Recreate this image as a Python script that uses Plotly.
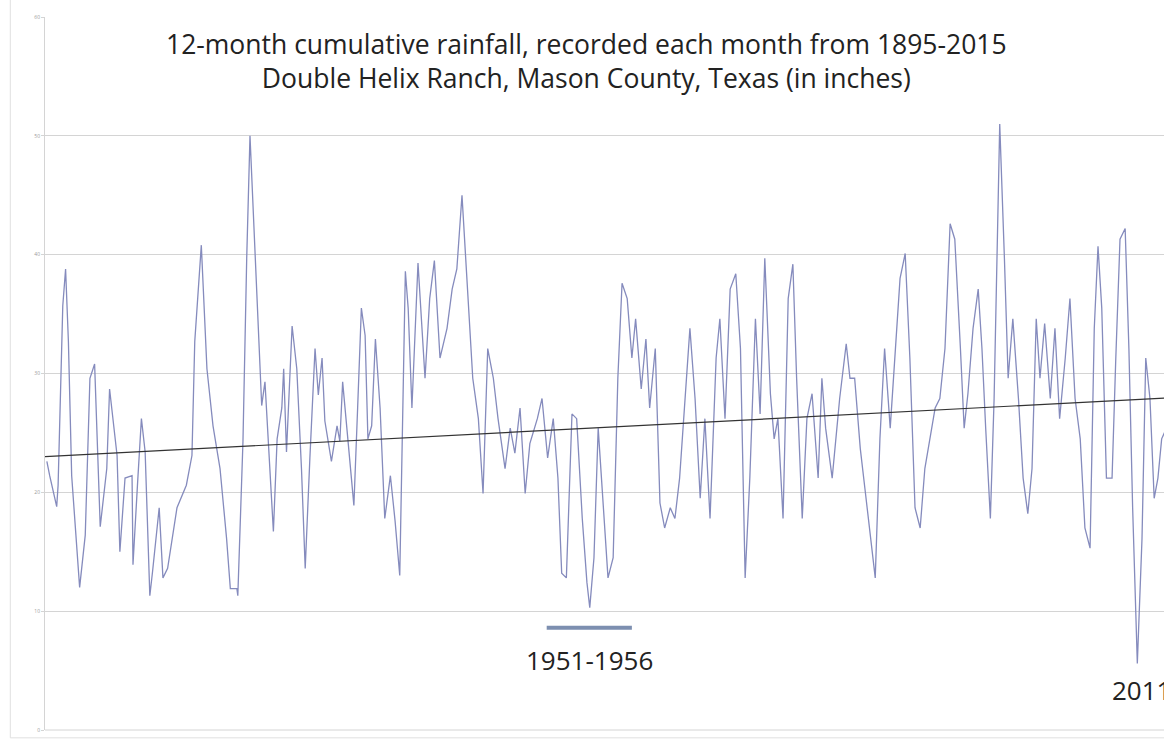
import plotly.graph_objects as go

# Decimal year of each point
years = [
    1895.2, 1895.5, 1896.25, 1896.4, 1896.9, 1897.2, 1897.5, 1897.85, 1898.7, 1899.3,
    1899.8, 1900.3, 1900.9, 1901.6, 1901.9, 1902.7, 1903.0, 1903.55, 1904.3, 1904.4,
    1904.9, 1905.3, 1905.7, 1906.2, 1906.5, 1907.2, 1907.6, 1908.1, 1909.1, 1910.1,
    1910.7, 1911.0, 1911.7, 1912.1, 1912.3, 1912.95, 1913.7, 1914.4, 1914.8,
    1915.5, 1915.6, 1916.15, 1916.55, 1916.9, 1917.4, 1917.8, 1918.15, 1918.5, 1918.8,
    1919.4, 1919.8, 1920.3, 1920.5, 1920.8, 1921.4, 1921.9, 1922.4, 1922.8, 1923.3,
    1923.85, 1924.2, 1924.6, 1924.9, 1925.6, 1926.2, 1926.5, 1926.8, 1927.4, 1928.0,
    1928.4, 1928.8, 1929.2, 1929.5, 1929.9, 1930.3, 1930.8, 1931.3, 1931.9, 1932.4,
    1932.9, 1933.5, 1933.8, 1934.2,
    1934.85, 1935.6, 1936.1, 1936.6, 1937.2, 1937.95, 1938.5, 1939.0, 1939.55, 1940.2,
    1940.7, 1941.3, 1941.8, 1942.3, 1942.9, 1943.4, 1944.15, 1944.7, 1945.2, 1945.75,
    1946.3, 1946.8, 1947.6, 1948.1, 1948.7, 1949.3, 1949.8, 1950.2, 1950.7, 1951.3,
    1951.8, 1952.4, 1952.9, 1953.2, 1953.65, 1954.1, 1954.6, 1955.15, 1955.7, 1956.2,
    1956.65, 1957.2, 1957.7, 1958.1, 1958.7, 1959.2, 1959.6, 1960.2, 1960.7, 1961.2,
    1961.8, 1962.3, 1962.8, 1963.4, 1963.9, 1964.45, 1965.0, 1965.5, 1966.05, 1966.7,
    1967.1, 1967.65, 1968.2, 1968.8, 1969.3, 1969.8, 1970.3, 1970.9, 1971.4, 1971.9,
    1972.5, 1972.9, 1973.3, 1973.85, 1974.4, 1974.9, 1975.3, 1975.9, 1976.4, 1976.95,
    1977.6, 1978.0, 1978.4, 1979.1, 1979.5, 1979.9, 1980.6, 1981.0, 1981.5, 1982.1,
    1982.6, 1983.1, 1983.7, 1984.2, 1984.7, 1985.3, 1985.8, 1986.35, 1986.9, 1987.4,
    1987.95, 1988.5, 1989.0, 1989.55, 1990.1, 1990.6, 1991.15, 1991.7, 1992.2, 1992.8,
    1993.2, 1993.6, 1994.15, 1994.7, 1995.1, 1995.5, 1996.0, 1996.4, 1996.7, 1997.0,
    1997.5, 1997.9, 1998.4, 1999.0, 1999.5, 2000.0, 2000.45, 2000.9, 2001.3, 2001.8,
    2002.4, 2002.9, 2003.4, 2004.0, 2004.5, 2005.05, 2005.6, 2006.1, 2006.65, 2007.1,
    2007.5, 2007.9, 2008.4, 2009.0, 2009.4, 2009.85, 2010.4, 2010.8, 2011.2, 2011.7,
    2012.2, 2012.6, 2013.05, 2013.5, 2013.9, 2014.3, 2014.8,
]

# 12-month cumulative rainfall (inches) at those points
rain = [
    22.6, 21.4, 18.8, 20.6, 35.7, 38.8, 32.7, 21.4, 12.0, 16.4,
    29.6, 30.8, 17.1, 22.0, 28.7, 23.1, 15.0, 21.2, 21.4, 13.9,
    20.9, 26.2, 23.4, 11.3, 13.4, 18.7, 12.8, 13.6, 18.7, 20.6,
    23.1, 32.7, 40.8, 34.4, 30.4, 25.6, 22.0, 16.1, 11.9,
    11.9, 11.3, 24.3, 39.7, 50.0, 41.1, 34.0, 27.3, 29.3, 25.4,
    16.7, 24.5, 27.1, 30.4, 23.4, 34.0, 30.4, 22.0, 13.6, 22.9,
    32.1, 28.2, 31.3, 26.0, 22.6, 25.6, 24.3, 29.3, 24.3, 18.9,
    27.1, 35.5, 33.2, 24.5, 25.6, 32.9, 27.1, 17.8, 21.4, 17.6,
    13.0, 38.6, 35.5, 27.1,
    39.3, 29.6, 36.3, 39.5, 31.3, 33.8, 37.1, 38.8, 45.0, 36.3,
    29.6, 26.2, 19.9, 32.1, 29.6, 26.2, 22.0, 25.4, 23.3, 27.1,
    19.9, 24.1, 26.2, 27.9, 22.9, 26.2, 21.2, 13.2, 12.8, 26.6,
    26.2, 17.8, 12.4, 10.3, 14.5, 25.4, 19.5, 12.8, 14.5, 29.6,
    37.6, 36.3, 31.3, 34.6, 28.7, 32.9, 27.1, 32.1, 19.1, 17.0,
    18.7, 17.8, 21.2, 27.9, 33.8, 27.9, 19.5, 26.2, 17.8, 31.3,
    34.6, 26.2, 37.1, 38.4, 32.1, 12.8, 21.2, 34.6, 26.6, 39.7,
    28.3, 24.5, 26.2, 17.8, 36.3, 39.2, 29.6, 17.8, 26.2, 28.3,
    21.2, 29.6, 25.4, 21.2, 24.5, 27.9, 32.5, 29.6, 29.6, 23.7,
    20.3, 17.0, 12.8, 24.5, 32.1, 25.4, 31.3, 38.0, 40.1, 31.3,
    18.7, 17.0, 22.0, 24.5, 27.1, 27.9, 32.1, 42.6, 41.3, 32.1,
    25.4, 28.3, 33.8, 37.1, 32.1, 25.4, 17.8, 27.9, 40.5, 51.0,
    39.7, 29.6, 34.6, 27.9, 21.2, 18.2, 22.0, 34.6, 29.6, 34.2,
    27.9, 33.8, 26.2, 31.3, 36.3, 27.9, 24.5, 17.0, 15.3, 33.8,
    40.7, 35.5, 21.2, 21.2, 31.3, 41.3, 42.2, 32.1, 18.7, 5.6,
    16.1, 31.3, 27.9, 19.5, 21.2, 24.5, 25.4,
]

# Linear trend line end points
trend_years = [1895, 2015]
trend_rain = [23.0, 27.95]

y_ticks = [0, 10, 20, 30, 40, 50, 60]

title_lines = [
    "12-month cumulative rainfall, recorded each month from 1895-2015",
    "Double Helix Ranch, Mason County, Texas (in inches)",
]

fig = go.Figure()
fig.add_trace(go.Scatter(
    x=years, y=rain, mode="lines",
    line=dict(color="#858bbd", width=1.3),
    showlegend=False, hoverinfo="skip",
))
fig.add_trace(go.Scatter(
    x=trend_years, y=trend_rain, mode="lines",
    line=dict(color="#333333", width=1.2),
    showlegend=False, hoverinfo="skip",
))

fig.update_layout(
    width=1164, height=743,
    margin=dict(l=45, r=0, t=17, b=13),
    paper_bgcolor="white", plot_bgcolor="white",
    font=dict(family="Open Sans, Liberation Sans, sans-serif", color="#222222"),
    xaxis=dict(range=[1895, 2014.55], showgrid=False, zeroline=False,
               showticklabels=False, ticks="", showline=False),
    yaxis=dict(range=[0, 60], tickvals=y_ticks, ticktext=[str(v) for v in y_ticks],
               showgrid=True, gridcolor="#d4d4d4", gridwidth=1,
               zeroline=False, showline=True, linecolor="#d4d4d4", linewidth=1,
               ticks="outside", ticklen=3, tickcolor="#d4d4d4",
               tickfont=dict(size=5, color="#9a9a9a")),
)

# outer light frame (left and bottom)
fig.add_shape(type="line", xref="paper", yref="paper", x0=-0.031, x1=-0.031, y0=-0.011, y1=1.03,
              line=dict(color="#e0e0e0", width=1))
fig.add_shape(type="line", xref="paper", yref="paper", x0=-0.031, x1=1.0, y0=-0.011, y1=-0.011,
              line=dict(color="#e0e0e0", width=1))
# bottom axis line
fig.add_shape(type="line", xref="paper", yref="paper", x0=0, x1=1, y0=0, y1=0,
              line=dict(color="#d4d4d4", width=1))

# title (two centred lines)
fig.add_annotation(text="<br>".join(title_lines), xref="paper", yref="paper", x=0.484, y=0.938,
                   showarrow=False, align="center", font=dict(size=26.5, color="#222222"),
                   xanchor="center", yanchor="middle")

# drought marker
fig.add_shape(type="line", xref="x", yref="y", x0=1948.6, x1=1957.7, y0=8.6, y1=8.6,
              line=dict(color="#7d8fb0", width=4))
fig.add_annotation(text="1951-1956", xref="x", yref="y", x=1953.2, y=5.9, showarrow=False,
                   font=dict(size=26, color="#222222"), xanchor="center", yanchor="middle")
fig.add_annotation(text="2011", xref="x", yref="y", x=2012.1, y=3.4, showarrow=False,
                   font=dict(size=26, color="#222222"), xanchor="center", yanchor="middle")

# remove the default page margin so the figure sits at the window's top-left corner
fig.write_html(
    "out.html",
    config={"displayModeBar": False},
    post_script="document.body.style.margin='0';document.body.style.overflow='hidden';",
)
